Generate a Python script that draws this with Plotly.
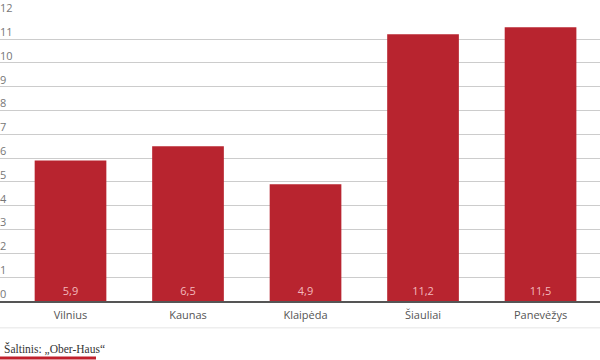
import plotly.graph_objects as go

cities = ["Vilnius", "Kaunas", "Klaipėda", "Šiauliai", "Panevėžys"]
values = [5.9, 6.5, 4.9, 11.2, 11.5]
y_ticks = list(range(0, 13))
source_text = "Šaltinis: „Ober-Haus“"

BAR = "#b8242f"
TOP = 13
BOTTOM = 59
H = 360 - TOP - BOTTOM


def py(pixel_y):
    # convert pixel row to paper coordinate
    return (360 - BOTTOM - pixel_y) / H


fig = go.Figure(
    go.Bar(
        x=cities,
        y=values,
        width=0.61,
        marker=dict(color=BAR, line=dict(width=0)),
        texttemplate="%{y:.1f}",
        textposition="inside",
        insidetextanchor="start",
        textangle=0,
        textfont=dict(family="Open Sans", size=11, color="#f3b9bd"),
        cliponaxis=False,
        hoverinfo="skip",
    )
)

fig.update_layout(
    width=600,
    height=360,
    margin=dict(l=0, r=0, t=TOP, b=BOTTOM, pad=0),
    paper_bgcolor="white",
    plot_bgcolor="white",
    separators=",.",
    showlegend=False,
    font=dict(family="Open Sans", size=11, color="#555555"),
    xaxis=dict(
        range=[-0.6, 4.506],
        showgrid=False,
        showline=True,
        linecolor="#555555",
        linewidth=1.5,
        ticks="",
        ticklabelstandoff=3,
        tickfont=dict(family="Open Sans", size=11, color="#555555"),
        fixedrange=True,
    ),
    yaxis=dict(
        range=[0, 12.01],
        tickvals=y_ticks,
        showgrid=True,
        gridcolor="#cccccc",
        gridwidth=1,
        zeroline=False,
        showline=False,
        ticks="",
        ticklabelposition="inside",
        ticklabeloverflow="allow",
        ticklabelshift=-7,
        ticklabelstandoff=-3,
        tickfont=dict(family="Open Sans", size=11, color="#777777"),
        fixedrange=True,
    ),
    shapes=[
        dict(type="line", xref="paper", yref="paper", x0=0, x1=1,
             y0=py(328), y1=py(328), line=dict(color="#eeeeee", width=1.5)),
        dict(type="rect", xref="paper", yref="paper", x0=0, x1=96 / 600,
             y0=py(360), y1=py(357), fillcolor="#c0202c", line=dict(width=0)),
    ],
    annotations=[
        dict(text=source_text, xref="paper", yref="paper", x=2 / 600, y=py(349),
             xanchor="left", yanchor="middle", showarrow=False,
             font=dict(family="Liberation Serif", size=11.5, color="#333333")),
    ],
)

fig.write_html("out.html")
